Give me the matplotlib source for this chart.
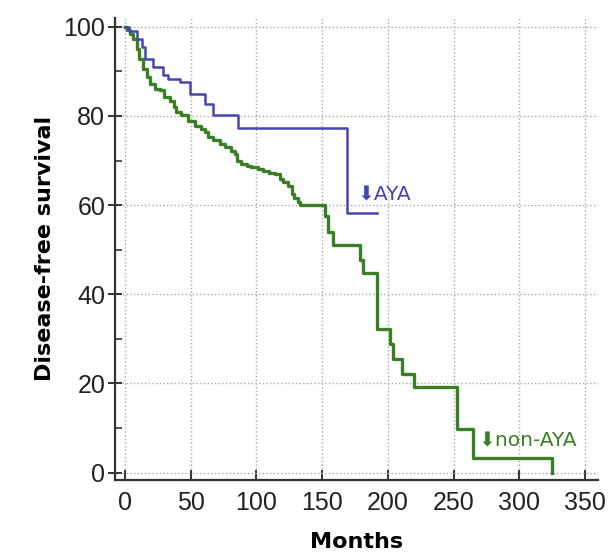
import matplotlib
matplotlib.use("Agg")
import matplotlib.pyplot as plt
from matplotlib.ticker import MultipleLocator

# === Daten ===
aya_months = [0, 3, 9, 13, 15, 21.5, 29, 33, 42, 49.5, 61, 67, 86, 168.6, 192]
aya_dfs = [100, 99, 97.3, 95.4, 92.8, 90.9, 89.1, 88.3, 87.6, 84.9, 82.7, 80.1, 77.3, 58.2, 58.2]

nonaya_months = [0, 2, 4, 6, 9, 11, 14, 16.5, 19, 23, 27, 30, 34, 37, 39, 43, 48, 53, 58,
                 61, 63, 67, 72, 76, 81, 84, 85, 88, 93, 96, 101, 105, 110, 114, 118, 120,
                 124, 127, 129, 132, 133, 152.5, 154.5, 158, 179, 181, 192, 202, 204, 211,
                 220, 253, 265, 325]
nonaya_dfs = [100, 99.2, 98.3, 97.3, 95.1, 92.8, 90.6, 88.7, 87.2, 86.1, 85.7, 84.2, 83.4,
              82, 80.8, 80.1, 78.9, 77.8, 77.1, 76.3, 75.2, 74.5, 73.7, 73, 72.2, 71.5, 70,
              69.2, 68.8, 68.5, 68.1, 67.7, 67.3, 67, 65.8, 65.1, 64.3, 62.5, 61.7, 60.6, 60,
              57.5, 54, 51.1, 47.8, 44.7, 32.2, 28.9, 25.6, 22.2, 19.2, 9.7, 3.3, 0]

x_ticks = [0, 50, 100, 150, 200, 250, 300, 350]
y_ticks = [0, 20, 40, 60, 80, 100]

blue = "#4646b0"
green = "#3b7f25"

fig = plt.figure(figsize=(6.11, 5.56), dpi=100)
ax = fig.add_axes([0.188, 0.137, 0.791, 0.831])

# === Gitter ===
ax.grid(True, which="major", linestyle=":", color="#a8a8a8", linewidth=1.0)
ax.set_axisbelow(True)

# === Kurven ===
ax.step(nonaya_months, nonaya_dfs, where="post", color=green, linewidth=2.4)
ax.step(aya_months, aya_dfs, where="post", color=blue, linewidth=1.8)

# === Beschriftungen an den Kurven ===
ax.text(177, 62.3, "\u2b07AYA", color=blue, fontsize=14.5,
        family=["DejaVu Sans", "Noto Sans"], va="center", ha="left")
ax.text(269, 7.2, "\u2b07non-AYA", color=green, fontsize=14.5,
        family=["DejaVu Sans", "Noto Sans"], va="center", ha="left")

# === Achsen ===
ax.set_xlim(-7.6, 360)
ax.set_ylim(-1.6, 102)
ax.set_xticks(x_ticks)
ax.set_yticks(y_ticks)
ax.yaxis.set_minor_locator(MultipleLocator(10))

for side in ["top", "right"]:
    ax.spines[side].set_visible(False)
for side in ["left", "bottom"]:
    ax.spines[side].set_linewidth(1.6)
    ax.spines[side].set_color("#333333")

ax.tick_params(axis="x", direction="in", length=7, width=1.4, color="#333333",
               labelsize=18, pad=8)
ax.tick_params(axis="y", which="major", direction="inout", length=10, width=1.4,
               color="#333333", labelsize=18, pad=2)
ax.tick_params(axis="y", which="minor", direction="in", length=5, width=1.2,
               color="#333333")
for lab in ax.get_xticklabels() + ax.get_yticklabels():
    lab.set_family("Liberation Sans")
    lab.set_color("#222222")

ax.set_xlabel("Months", fontsize=16, fontweight="bold", family="DejaVu Sans", labelpad=12)
ax.set_ylabel("Disease-free survival", fontsize=16, fontweight="bold", family="DejaVu Sans",
              labelpad=6)

fig.savefig("out.png", dpi=100)
